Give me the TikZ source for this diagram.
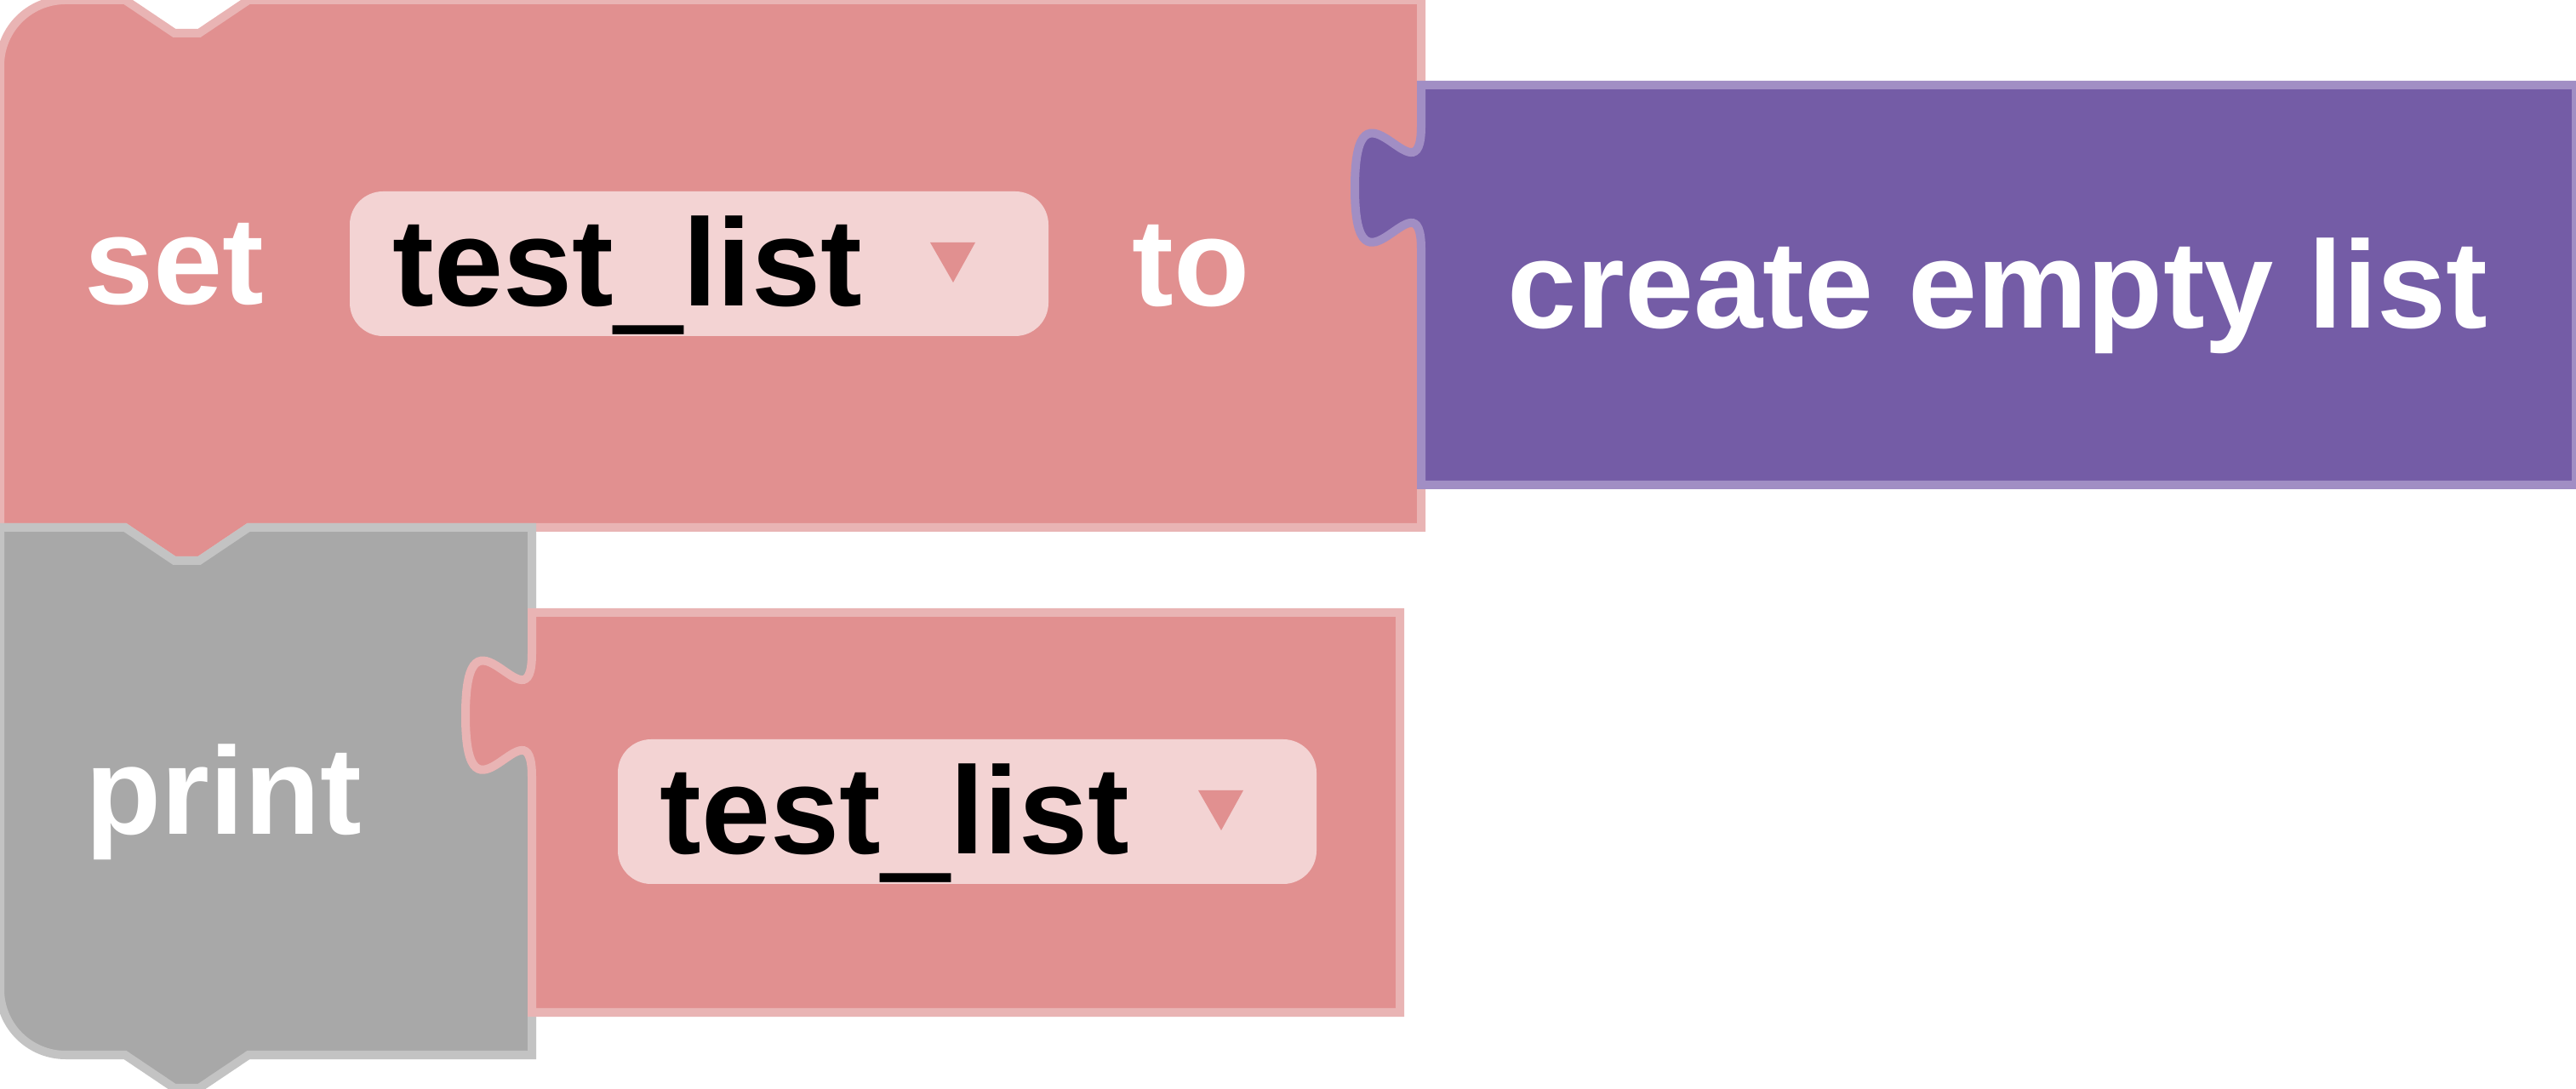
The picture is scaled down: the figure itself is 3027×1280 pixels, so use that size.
\documentclass[tikz,border=0pt]{standalone}
\usepackage{fontspec}
\setmainfont{Liberation Sans}
\definecolor{varred}{RGB}{225,144,144}
\definecolor{varredlight}{RGB}{233,180,180}
\definecolor{fieldbg}{RGB}{243,211,211}
\definecolor{listpurple}{RGB}{116,92,166}
\definecolor{listpurplelight}{RGB}{161,142,196}
\definecolor{printgray}{RGB}{168,168,168}
\definecolor{printgraylight}{RGB}{195,195,195}
\newcommand{\thickus}{\scalebox{1}[1.9]{\_}}

\begin{document}
\begin{tikzpicture}[x=0.01cm, y=-0.01cm,
    block/.style={line width=0.1cm, line join=miter},
    redblock/.style={block, fill=varred, draw=varredlight},
    purpleblock/.style={block, fill=listpurple, draw=listpurplelight},
    grayblock/.style={block, fill=printgray, draw=printgraylight},
    field/.style={fill=fieldbg, rounded corners=0.39cm},
    arrowtri/.style={fill=varred},
    word/.style={anchor=base west, inner sep=0pt, text=white,
        font=\fontsize{41.5}{50}\selectfont\bfseries},
    varname/.style={word, text=black}]
    \useasboundingbox (0,0) rectangle (3027,1280);

    % set block
    \draw[redblock] (0,620) -- (0,77) arc[start angle=180, end angle=270, radius=77]
        -- (147,0) -- (205,39) -- (234,39) -- (292,0) -- (1670,0) -- (1670,620)
        -- (292,620) -- (234,659) -- (205,659) -- (147,620) -- cycle;

    % create empty list block
    \draw[purpleblock] (1670,100) -- (1670,148)
        .. controls (1670,245) and (1592,70) .. (1592,221)
        .. controls (1592,371) and (1670,196) .. (1670,293)
        -- (1670,570) -- (3027,570) -- (3027,100) -- cycle;

    % print block
    \draw[grayblock] (0,620) -- (147,620) -- (205,659) -- (234,659) -- (292,620)
        -- (625,620) -- (625,1240) -- (292,1240) -- (234,1279) -- (205,1279)
        -- (147,1240) -- (77,1240) arc[start angle=90, end angle=180, radius=77]
        -- cycle;

    % variable getter in print
    \draw[redblock] (625,720) -- (625,768)
        .. controls (625,865) and (547,690) .. (547,841)
        .. controls (547,991) and (625,816) .. (625,913)
        -- (625,1190) -- (1645,1190) -- (1645,720) -- cycle;

    % dropdown fields
    \fill[field] (411,225) rectangle (1232,395);
    \fill[arrowtri] (1093,285) -- (1146,285) -- (1120,332) -- cycle;
    \fill[field] (726,869) rectangle (1547,1039);
    \fill[arrowtri] (1408,929) -- (1461,929) -- (1435,976) -- cycle;

    % labels
    \node (setword) at (99,358) [word] {set};
    \node (setvar) at (461,360) [varname] {test\thickus list};
    \node (toword) at (1330,360) [word] {to};
    \node (listword) at (1771,386) [word] {create empty list};
    \node (printword) at (100,981) [word] {print};
    \node (printvar) at (775,1004) [varname] {test\thickus list};
\end{tikzpicture}
\end{document}
